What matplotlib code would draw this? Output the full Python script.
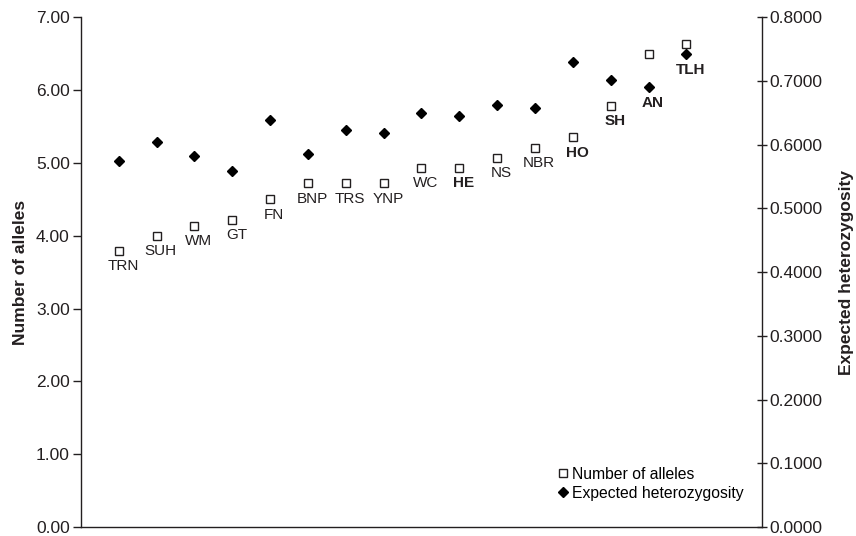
import numpy as np
import matplotlib.pyplot as plt

plt.rcParams['font.family'] = ['Liberation Sans', 'DejaVu Sans']

# populations ordered by allele number
pops = ["TRN", "SUH", "WM", "GT", "FN", "BNP", "TRS", "YNP",
        "WC", "HE", "NS", "NBR", "HO", "SH", "AN", "TLH"]
bold_pops = ["HE", "HO", "SH", "AN", "TLH"]
alleles = [3.79, 4.00, 4.14, 4.22, 4.50, 4.72, 4.72, 4.72,
           4.93, 4.93, 5.07, 5.21, 5.35, 5.78, 6.49, 6.63]
het = [0.574, 0.605, 0.583, 0.558, 0.639, 0.586, 0.623, 0.619,
       0.650, 0.645, 0.663, 0.657, 0.730, 0.702, 0.690, 0.742]

ink = "#231f20"
x = np.arange(1, len(pops) + 1)
ymax_l, ymax_r = 7.0, 0.8

fig = plt.figure(figsize=(8.56, 5.36), dpi=100)
ax = fig.add_axes([0.0946, 0.0168, 0.7956, 0.951])
ax2 = ax.twinx()

l1, = ax.plot(x, alleles, linestyle="none", marker="s", markersize=5.5,
              markerfacecolor="white", markeredgecolor=ink, markeredgewidth=1.0,
              label="Number of alleles", zorder=3)
l2, = ax2.plot(x, het, linestyle="none", marker="D", markersize=4.8,
               color="black", label="Expected heterozygosity", zorder=3)

# label goes under whichever marker sits lower
for xi, a, h, p in zip(x, alleles, het, pops):
    ya = min(a, h * ymax_l / ymax_r)
    ax.annotate(p, (xi, ya), xytext=(3, -6), textcoords="offset points",
                ha="center", va="top", fontsize=11, color=ink,
                fontweight="bold" if p in bold_pops else "normal", zorder=4)

ax.set_xlim(0, 18)
ax.set_ylim(0, ymax_l)
ax.set_yticks(np.arange(0, 7.01, 1))
ax.set_yticklabels(["%.2f" % v for v in np.arange(0, 7.01, 1)])
ax2.set_ylim(0, ymax_r)
ax2.set_yticks(np.arange(0, 0.801, 0.1))
ax2.set_yticklabels(["%.4f" % v for v in np.arange(0, 0.801, 0.1)])

ax.set_xticks([])
for a in (ax, ax2):
    a.spines["top"].set_visible(False)
    for s in a.spines.values():
        s.set_color(ink)
        s.set_linewidth(1.0)
ax.spines["right"].set_visible(False)
ax2.spines["left"].set_visible(False)
ax2.spines["bottom"].set_visible(False)

ax.tick_params(axis="y", direction="out", length=6, width=1, color=ink,
               labelsize=12.5, labelcolor=ink, pad=2)
ax2.tick_params(axis="y", direction="inout", length=7, width=1, color=ink,
                labelsize=12.5, labelcolor=ink, pad=2)

ax.set_ylabel("Number of alleles", fontsize=12.5, fontweight="bold", color=ink, labelpad=6)
ax2.set_ylabel("Expected heterozygosity", fontsize=12.5, fontweight="bold", color=ink,
               rotation=90, labelpad=12)

ax.legend(handles=[l1, l2], loc="lower right", bbox_to_anchor=(0.984, 0.036),
          frameon=False, fontsize=11.3, handlelength=0.5, handletextpad=0.3,
          labelspacing=0.25, borderpad=0)

fig.savefig("out.png", dpi=100)
